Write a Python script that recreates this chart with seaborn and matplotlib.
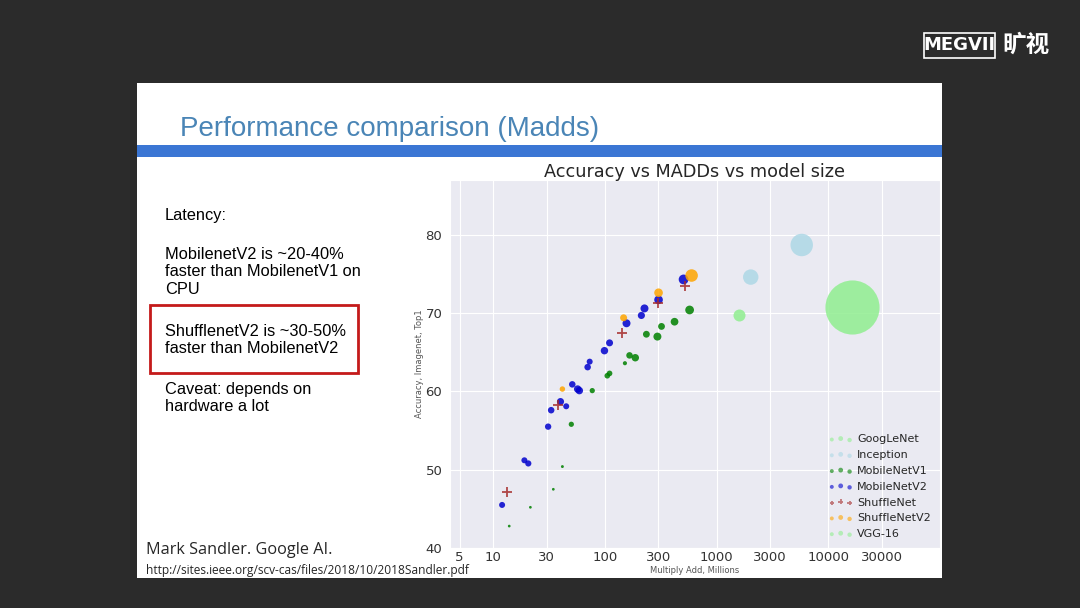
import seaborn as sns
import matplotlib.pyplot as plt
import matplotlib.patches as patches
from matplotlib.ticker import NullLocator
import pandas as pd

# --- data (MAdds in millions, top-1 accuracy, params in millions) ---
googlenet_madds = [1574]
googlenet_acc = [69.7]
googlenet_params = [6.8]

inception_madds = [2020, 5780]
inception_acc = [74.6, 78.7]
inception_params = [11.2, 23.8]

mnv1_madds = [13.9, 21.5, 34.5, 41.6, 50, 77, 105, 110, 151, 166, 187, 235, 295, 321, 420, 573]
mnv1_acc = [42.8, 45.2, 47.5, 50.4, 55.8, 60.1, 62.0, 62.3, 63.6, 64.6, 64.3, 67.3, 67.0, 68.3, 68.9, 70.4]
mnv1_params = [0.35, 0.35, 0.35, 0.4, 1.3, 1.3, 1.5, 1.5, 0.8, 2.0, 2.6, 2.2, 3.0, 2.2, 2.8, 3.6]

mnv2_madds = [12, 19.0, 20.6, 31, 33, 40, 45, 51, 57, 59, 70, 73, 99, 110, 156, 212, 226, 302, 506]
mnv2_acc = [45.5, 51.2, 50.8, 55.5, 57.6, 58.7, 58.1, 60.9, 60.3, 60.1, 63.1, 63.8, 65.2, 66.2, 68.7, 69.7, 70.6, 71.7, 74.3]
mnv2_params = [1.7, 1.7, 1.8, 1.9, 2.0, 2.4, 1.7, 2.0, 2.6, 2.6, 2.0, 1.7, 2.6, 2.3, 3.0, 2.4, 3.0, 3.5, 4.5]

shufflenet_madds = [13.4, 38.3, 141, 300, 525]
shufflenet_acc = [47.1, 58.2, 67.5, 71.3, 73.5]

shufflenetv2_madds = [41.6, 147, 302, 597]
shufflenetv2_acc = [60.3, 69.4, 72.6, 74.8]
shufflenetv2_params = [1.4, 2.3, 3.5, 7.4]

vgg_madds = [16200]
vgg_acc = [70.8]
vgg_params = [138]

xtick_values = [5, 10, 30, 100, 300, 1000, 3000, 10000, 30000]
ytick_values = [40, 50, 60, 70, 80]

W, H = 1080, 608


def fx(x):
    return x / W


def fy(y):
    return 1 - y / H


sns.set_style("darkgrid")
fig = plt.figure(figsize=(10.8, 6.08), dpi=100, facecolor='#2b2b2b')

# slide background
fig.patches.append(patches.Rectangle((fx(137), fy(578)), (942 - 137) / W, (578 - 83) / H,
                                     transform=fig.transFigure, facecolor='white', edgecolor='none', zorder=-2))
fig.patches.append(patches.Rectangle((fx(137), fy(157)), (942 - 137) / W, 12 / H,
                                     transform=fig.transFigure, facecolor='#3b76d4', edgecolor='none', zorder=-1))

fig.text(fx(180), fy(129), 'Performance comparison (Madds)', fontsize=20, color='#4a85b6',
         family='Liberation Sans', va='center', ha='left')

body = dict(fontsize=11.8, color='black', family='Liberation Sans', va='top', ha='left', linespacing=1.2)
fig.text(fx(165), fy(208), 'Latency:', **body)
fig.text(fx(165), fy(247), 'MobilenetV2 is ~20-40%\nfaster than MobilenetV1 on\nCPU', **body)
fig.text(fx(165), fy(324), 'ShufflenetV2 is ~30-50%\nfaster than MobilenetV2', **body)
fig.text(fx(165), fy(382), 'Caveat: depends on\nhardware a lot', **body)
fig.patches.append(patches.Rectangle((fx(150), fy(373)), (358 - 150) / W, (373 - 305) / H,
                                     transform=fig.transFigure, facecolor='none', edgecolor='#c41a1a',
                                     linewidth=2, zorder=2))

fig.text(fx(146), fy(550), 'Mark Sandler. Google AI.', fontsize=11.7, family='Open Sans', va='center', ha='left')
fig.text(fx(146), fy(570.5), 'http://sites.ieee.org/scv-cas/files/2018/10/2018Sandler.pdf', fontsize=8.6,
         family='Open Sans', va='center', ha='left')

# logo
fig.text(fx(959), fy(45), 'MEGVII', fontsize=13, fontweight='bold', color='white', family='DejaVu Sans',
         va='center', ha='center')
fig.patches.append(patches.Rectangle((fx(924), fy(58)), (995 - 924) / W, 25 / H, transform=fig.transFigure,
                                     facecolor='none', edgecolor='white', linewidth=1.2))
fig.text(fx(1026), fy(45), '旷视', fontsize=17, fontweight='bold', color='white',
         family=['Noto Sans CJK SC', 'DejaVu Sans'], va='center', ha='center')

# --- chart ---
ax = fig.add_axes([fx(450), fy(548), (940 - 450) / W, (548 - 180) / H])
ax.set_zorder(1)

groups = [
    ('GoogLeNet', googlenet_madds, googlenet_acc, googlenet_params, 'lightgreen', 'o'),
    ('Inception', inception_madds, inception_acc, inception_params, 'lightblue', 'o'),
    ('MobileNetV1', mnv1_madds, mnv1_acc, mnv1_params, 'green', 'o'),
    ('MobileNetV2', mnv2_madds, mnv2_acc, mnv2_params, 'mediumblue', 'o'),
    ('ShuffleNet', shufflenet_madds, shufflenet_acc, None, 'brown', '+'),
    ('ShuffleNetV2', shufflenetv2_madds, shufflenetv2_acc, shufflenetv2_params, 'orange', 'o'),
    ('VGG-16', vgg_madds, vgg_acc, vgg_params, 'lightgreen', 'o'),
]

for name, madds, acc, params, color, marker in groups:
    df = pd.DataFrame({'madds': madds, 'acc': acc})
    if marker == '+':
        sns.scatterplot(data=df, x='madds', y='acc', color=color, marker='+', s=45, linewidth=1.3,
                        alpha=0.85, label=name, ax=ax)
    else:
        sizes = [11 * p for p in params]
        sns.scatterplot(data=df, x='madds', y='acc', color=color, marker='o', s=sizes, linewidth=0,
                        alpha=0.85, label=name, ax=ax)

ax.set_xscale('log')
ax.set_xlim(4.1, 100000)
ax.set_ylim(40, 87)
ax.set_xticks(xtick_values)
ax.set_xticklabels([str(v) for v in xtick_values])
ax.xaxis.set_minor_locator(NullLocator())
ax.set_yticks(ytick_values)
ax.tick_params(axis='both', labelsize=9.5, colors='#333333')
ax.tick_params(axis='x', pad=-1)
ax.tick_params(axis='y', pad=2)
ax.set_xlabel('Multiply Add, Millions', fontsize=6, color='#555555', labelpad=1.2)
ax.set_ylabel('Accuracy, Imagenet, Top1', fontsize=6, color='#555555', labelpad=1)
ax.set_title('Accuracy vs MADDs vs model size', fontsize=12.7, color='#262626', pad=2)

leg = ax.legend(loc='lower right', frameon=False, scatterpoints=3, fontsize=8, labelspacing=0.52,
                handletextpad=0.4, handlelength=2.2, borderaxespad=0.4)
for h in leg.legend_handles:
    h.set_sizes([8, 12, 10])
    h.set_alpha(0.6)

fig.savefig('out.png', dpi=100, facecolor=fig.get_facecolor())
